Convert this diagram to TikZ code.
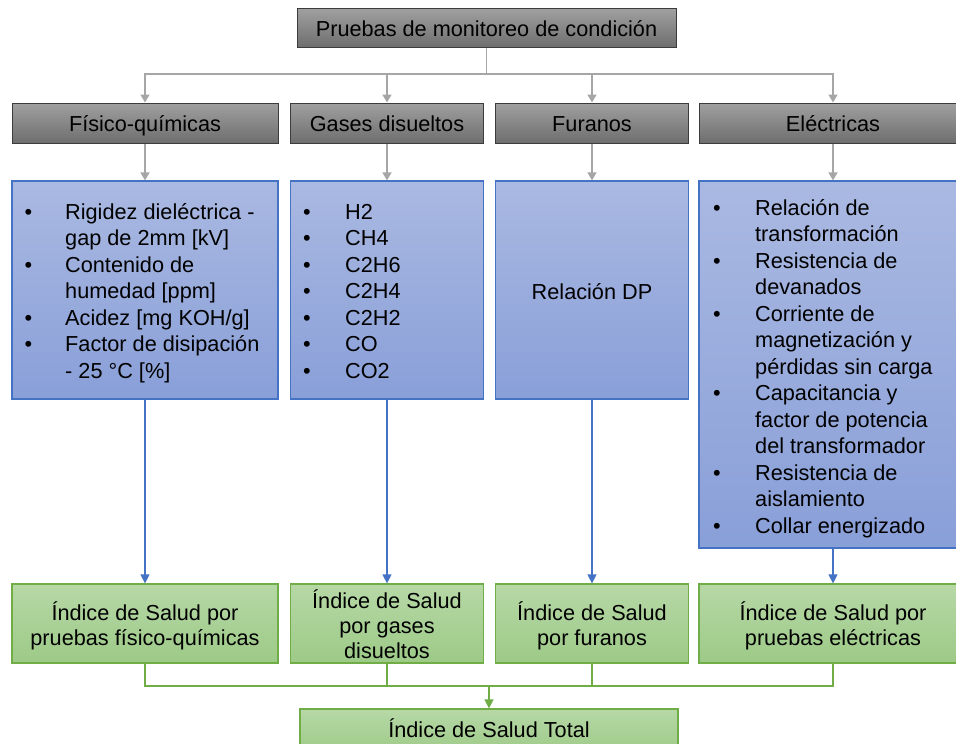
\documentclass[tikz,border=0pt]{standalone}
\usepackage{fontspec}
\setmainfont{Liberation Sans}
\usetikzlibrary{arrows.meta}

\definecolor{grayline}{HTML}{A6A6A6}
\definecolor{grayedge}{HTML}{3C3C3C}
\definecolor{graytop}{HTML}{A0A0A0}
\definecolor{graybot}{HTML}{6E6E6E}
\definecolor{blueedge}{HTML}{4472C4}
\definecolor{bluetop}{HTML}{AAB9E2}
\definecolor{bluebot}{HTML}{899FD8}
\definecolor{greenedge}{HTML}{70AD47}
\definecolor{greentop}{HTML}{B6D8A6}
\definecolor{greenbot}{HTML}{9DCA87}

% move a text down without changing the size it reports
\newcommand{\shiftdown}[2]{\raisebox{-#1}[\height][\depth]{#2}}
% centred multi-line label
\newcommand{\lines}[2][4pt]{\shiftdown{#1}{\begin{tabular}{@{}c@{}}#2\end{tabular}}}

\tikzset{
  basebox/.style={rectangle, inner sep=0pt, font=\fontsize{21.7}{26.5}\selectfont},
  cat/.style={basebox, draw=grayedge, line width=1pt, top color=graytop, bottom color=graybot,
    text height=19pt, text depth=3pt},
  listbox/.style={basebox, draw=blueedge, line width=1.2pt, top color=bluetop, bottom color=bluebot},
  idx/.style={basebox, draw=greenedge, line width=1.2pt, top color=greentop, bottom color=greenbot,
    font=\fontsize{21.7}{25}\selectfont},
  items/.style={basebox, anchor=base west},
  garrow/.style={draw=grayline, line width=1.5pt, -{Triangle[width=9pt,length=8pt]}},
  gline/.style={draw=grayline, line width=1.5pt},
  barrow/.style={draw=blueedge, line width=1.2pt, -{Triangle[width=9pt,length=9pt]}},
  gnline/.style={draw=greenedge, line width=1.5pt},
  gnarrow/.style={draw=greenedge, line width=1.5pt, -{Triangle[width=9pt,length=9pt]}},
}

\begin{document}
\begin{tikzpicture}[x=1pt,y=-1pt]
\useasboundingbox (0,0) rectangle (956,744);
\clip (0,0) rectangle (956,744);
\fill[white] (0,0) rectangle (956,744);

% root
\node[cat, minimum width=379pt, minimum height=39pt] (top) at (486.5,28) {Pruebas de monitoreo de condición};

% test families
\node[cat, minimum width=266pt, minimum height=40pt] (fq) at (145,123) {Físico-químicas};
\node[cat, minimum width=193pt, minimum height=40pt] (gs) at (387,123) {Gases disueltos};
\node[cat, minimum width=193pt, minimum height=40pt] (fu) at (592,123) {Furanos};
\node[cat, minimum width=268pt, minimum height=40pt] (el) at (833,123) {Eléctricas};

% measured quantities
\node[listbox, minimum width=266pt, minimum height=218pt] (fqb) at (145,290) {};
\node[listbox, minimum width=193pt, minimum height=218pt] (gsb) at (387,290) {};
\node[listbox, minimum width=193pt, minimum height=218pt] (fub) at (592,290) {\shiftdown{2pt}{Relación DP}};
\node[listbox, minimum width=268pt, minimum height=367pt] (elb) at (833,364.5) {};

\node[items] (fql) at (24.5,219) {\begin{tabular}[t]{@{}p{40.5pt}@{}l@{}}
\textbullet & Rigidez dieléctrica -\\
 & gap de 2mm [kV]\\
\textbullet & Contenido de\\
 & humedad [ppm]\\
\textbullet & Acidez [mg KOH/g]\\
\textbullet & Factor de disipación\\
 & - 25 °C [\%]
\end{tabular}};

\node[items] (gsl) at (303,219) {\begin{tabular}[t]{@{}p{42pt}@{}l@{}}
\textbullet & H2\\
\textbullet & CH4\\
\textbullet & C2H6\\
\textbullet & C2H4\\
\textbullet & C2H2\\
\textbullet & CO\\
\textbullet & CO2
\end{tabular}};

\node[items] (ell) at (713,215) {\begin{tabular}[t]{@{}p{42pt}@{}l@{}}
\textbullet & Relación de\\
 & transformación\\
\textbullet & Resistencia de\\
 & devanados\\
\textbullet & Corriente de\\
 & magnetización y\\
 & pérdidas sin carga\\
\textbullet & Capacitancia y\\
 & factor de potencia\\
 & del transformador\\
\textbullet & Resistencia de\\
 & aislamiento\\
\textbullet & Collar energizado
\end{tabular}};

% health indices
\node[idx, minimum width=266pt, minimum height=79pt] (fqg) at (145,623.5) {\lines{Índice de Salud por\\pruebas físico-químicas}};
\node[idx, minimum width=193pt, minimum height=79pt] (gsg) at (387,623.5) {\lines{Índice de Salud\\por gases\\disueltos}};
\node[idx, minimum width=193pt, minimum height=79pt] (fug) at (592,623.5) {\lines{Índice de Salud\\por furanos}};
\node[idx, minimum width=268pt, minimum height=79pt] (elg) at (833,623.5) {\lines{Índice de Salud por\\pruebas eléctricas}};

\node[idx, minimum width=378pt, minimum height=46pt] (tot) at (489,732) {\shiftdown{-4pt}{Índice de Salud Total}};

% root to families
\coordinate (bus1) at (486.5,74);
\draw[gline] (top.south) -- (bus1);
\foreach \n in {fq,gs,fu,el}{
  \draw[garrow] (bus1) -| (\n.north);
}
% families to quantities
\foreach \n in {fq,gs,fu,el}{
  \draw[garrow] (\n.south) -- (\n b.north);
}
% quantities to indices
\foreach \n in {fq,gs,fu,el}{
  \draw[barrow] (\n b.south) -- (\n g.north);
}
% indices to total
\coordinate (bus2) at (489,686);
\foreach \n in {fq,gs,fu,el}{
  \draw[gnline] (\n g.south) |- (bus2);
}
\draw[gnarrow] (bus2) -- (tot.north);
\end{tikzpicture}
\end{document}
